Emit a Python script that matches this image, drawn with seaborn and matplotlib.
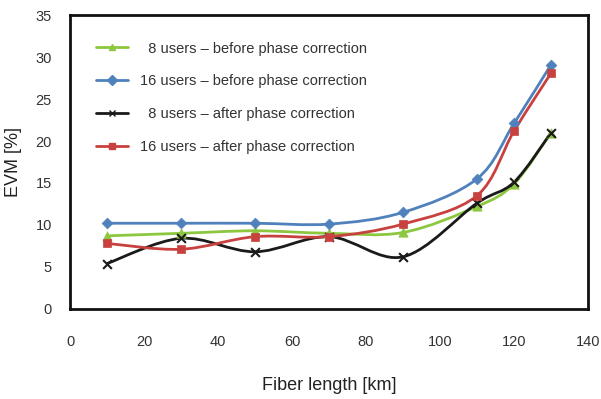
import numpy as np
import pandas as pd
import matplotlib
matplotlib.use("Agg")
import matplotlib.pyplot as plt
import seaborn as sns
from matplotlib.path import Path
from matplotlib.patches import PathPatch
from matplotlib.lines import Line2D

fiber_km = [10, 30, 50, 70, 90, 110, 120, 130]
evm_8_before = [8.7, 9.0, 9.3, 9.0, 9.1, 12.2, 14.9, 21.0]
evm_16_before = [10.2, 10.2, 10.2, 10.1, 11.5, 15.5, 22.1, 29.1]
evm_8_after = [5.4, 8.4, 6.8, 8.6, 6.2, 12.6, 15.1, 21.0]
evm_16_after = [7.8, 7.1, 8.6, 8.6, 10.1, 13.5, 21.2, 28.1]

labels = ["  8 users – before phase correction",
          "16 users – before phase correction",
          "  8 users – after phase correction",
          "16 users – after phase correction"]
series = [evm_8_before, evm_16_before, evm_8_after, evm_16_after]
colors = ["#8dc63f", "#4f81bd", "#1a1a1a", "#c8413f"]
markers = ["^", "D", "x", "s"]
msizes = [45, 30, 40, 35]

sns.set_style("white")
plt.rcParams["font.family"] = ["Liberation Sans", "DejaVu Sans"]


def smooth_path(xs, ys):
    # Excel-like smoothed line: Catmull-Rom segments as cubic Bezier curves
    pts = np.column_stack([xs, ys]).astype(float)
    verts = [pts[0]]
    codes = [Path.MOVETO]
    n = len(pts)
    for i in range(n - 1):
        p0 = pts[max(i - 1, 0)]
        p1 = pts[i]
        p2 = pts[i + 1]
        p3 = pts[min(i + 2, n - 1)]
        c1 = p1 + (p2 - p0) / 6.0
        c2 = p2 - (p3 - p1) / 6.0
        verts += [c1, c2, p2]
        codes += [Path.CURVE4] * 3
    return Path(verts, codes)


fig = plt.figure(figsize=(6.01, 3.99), dpi=100)
ax = fig.add_axes([0.1165, 0.226, 0.862, 0.736])

handles = []
for vals, lab, col, mk, ms in zip(series, labels, colors, markers, msizes):
    df = pd.DataFrame({"km": fiber_km, "evm": vals})
    ax.add_patch(PathPatch(smooth_path(df["km"], df["evm"]), facecolor="none",
                           edgecolor=col, lw=2, zorder=2))
    sns.scatterplot(data=df, x="km", y="evm", marker=mk, s=ms, color=col,
                    edgecolor=col if mk != "x" else None, linewidth=1.5 if mk == "x" else 0.5,
                    ax=ax, zorder=3, legend=False)
    handles.append(Line2D([0], [0], color=col, lw=2, marker=mk,
                          markersize=5, markeredgecolor=col, label=lab))

ax.set_xlim(0, 140)
ax.set_ylim(0, 35)
ax.set_xticks(range(0, 141, 20))
ax.set_yticks(range(0, 36, 5))

for side in ["left", "bottom", "top", "right"]:
    ax.spines[side].set_color("#111111")
    ax.spines[side].set_linewidth(2)

ax.tick_params(axis="x", direction="out", length=4, width=1.5, pad=15, labelsize=10.5,
               labelcolor="#333333")
ax.tick_params(axis="y", direction="out", length=4, width=1.5, pad=9, labelsize=10.5,
               labelcolor="#333333")

ax.set_xlabel("Fiber length [km]", fontsize=13, color="#222222", labelpad=20)
ax.set_ylabel("EVM [%]", fontsize=13, color="#222222", labelpad=10)

leg = ax.legend(handles=handles, loc="upper left", bbox_to_anchor=(0.025, 0.955),
                frameon=False, handlelength=2.2, labelspacing=1.3,
                prop={"size": 10.5})
for t in leg.get_texts():
    t.set_color("#333333")

fig.savefig("out.png", dpi=100)
